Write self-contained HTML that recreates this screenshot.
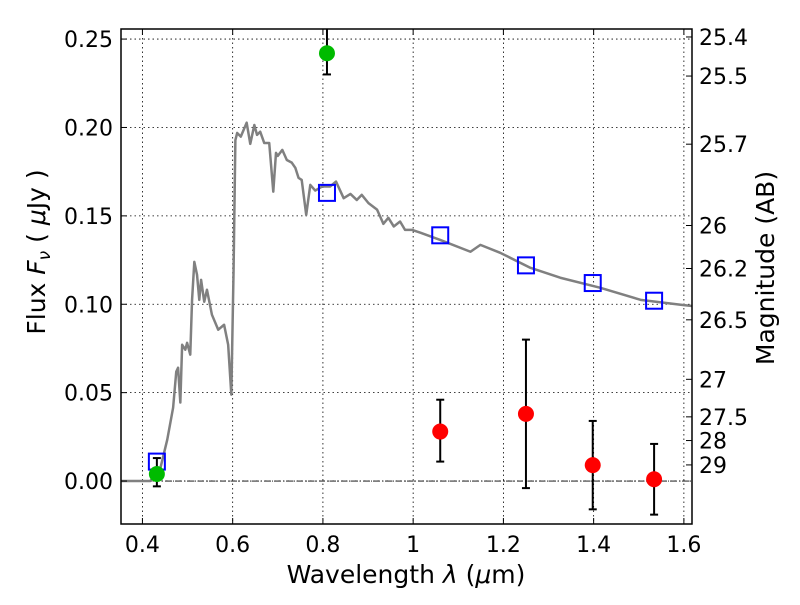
<!DOCTYPE html>
<html><head><meta charset="utf-8"><style>
body{margin:0;background:#fff}
svg text{font-family:"DejaVu Sans","Liberation Sans",sans-serif;fill:#000}
</style></head><body>
<svg id="chart" width="800" height="600" xmlns="http://www.w3.org/2000/svg">
<defs><clipPath id="plotclip"><rect x="121" y="29" width="571" height="495"/></clipPath></defs>
<rect width="800" height="600" fill="#fff"/>
<g id="grid"></g>
<g id="marks" clip-path="url(#plotclip)"></g>
<rect x="121" y="29" width="571" height="495" fill="none" stroke="#000" stroke-width="1.5"/>
<g id="axes"></g>
<text x="406" y="583" font-size="25" text-anchor="middle">Wavelength  <tspan font-style="italic">λ</tspan> (<tspan font-style="italic">μ</tspan>m)</text>
<text transform="translate(45,252) rotate(-90)" font-size="25" text-anchor="middle">Flux  <tspan font-style="italic">F<tspan font-size="17" dy="5">ν</tspan></tspan><tspan dy="-5">  ( </tspan><tspan font-style="italic">μ</tspan>Jy )</text>
<text transform="translate(774,268) rotate(-90)" font-size="25" text-anchor="middle">Magnitude (AB)</text>
</svg>
<script>
const xTicks=[0.4,0.6,0.8,1.0,1.2,1.4,1.6];
const xTickLabels=["0.4","0.6","0.8","1","1.2","1.4","1.6"];
const yTicks=[0,0.05,0.10,0.15,0.20,0.25];
const yTickLabels=["0.00","0.05","0.10","0.15","0.20","0.25"];
const magTicks=[25.4,25.5,25.7,26,26.2,26.5,27,27.5,28,29];
const magLabels=["25.4","25.5","25.7","26","26.2","26.5","27","27.5","28","29"];
const specW=[0.353,0.417,0.439,0.455,0.468,0.475,0.479,0.484,0.488,0.495,0.499,0.506,0.510,0.515,0.521,0.526,0.530,0.537,0.543,0.554,0.568,0.581,0.590,0.597,0.602,0.606,0.610,0.618,0.631,0.639,0.648,0.654,0.661,0.670,0.681,0.690,0.696,0.700,0.710,0.720,0.731,0.739,0.746,0.753,0.763,0.772,0.783,0.798,0.816,0.829,0.846,0.861,0.875,0.886,0.901,0.920,0.934,0.945,0.957,0.971,0.982,0.997,1.016,1.060,1.127,1.149,1.193,1.260,1.326,1.415,1.504,1.593,1.619];
const specF=[0,0,0.0065,0.0234,0.0415,0.0619,0.0641,0.0444,0.0771,0.0743,0.0782,0.0715,0.1025,0.1240,0.1167,0.1025,0.1138,0.1014,0.1082,0.0941,0.0856,0.0884,0.0771,0.0489,0.1195,0.1929,0.1969,0.1948,0.2027,0.1907,0.2014,0.1958,0.1976,0.1912,0.1912,0.1637,0.1856,0.1839,0.1873,0.1816,0.1801,0.1771,0.1715,0.1703,0.1506,0.1675,0.1643,0.1666,0.1666,0.1694,0.1600,0.1624,0.1590,0.1619,0.1572,0.1535,0.1455,0.1489,0.1440,0.1468,0.1421,0.1421,0.1405,0.1364,0.1297,0.1336,0.1291,0.1206,0.1150,0.1093,0.1025,0.0997,0.0990];
const modelW=[0.432,0.809,1.060,1.250,1.398,1.534];
const modelF=[0.011,0.163,0.139,0.122,0.112,0.102];
const greenW=[0.432,0.809];
const greenF=[0.004,0.242];
const greenLo=[-0.003,0.230];
const greenHi=[0.013,0.262];
const redW=[1.060,1.250,1.398,1.534];
const redF=[0.028,0.038,0.009,0.001];
const redLo=[0.011,-0.004,-0.016,-0.019];
const redHi=[0.046,0.080,0.034,0.021];
const X0=121,X1=692,Y0=29,Y1=524,XMIN=0.3525,XMAX=1.618,YMIN=-0.0243,YMAX=0.2557;
const xs=w=>X0+(w-XMIN)/(XMAX-XMIN)*(X1-X0);
const ys=f=>Y1-(f-YMIN)/(YMAX-YMIN)*(Y1-Y0);
const NS="http://www.w3.org/2000/svg";
function mk(tag,attrs,parent){const e=document.createElementNS(NS,tag);for(const k in attrs)e.setAttribute(k,attrs[k]);parent.appendChild(e);return e;}
const grid=document.getElementById('grid'),marks=document.getElementById('marks'),axes=document.getElementById('axes');
xTicks.forEach((t,i)=>{const x=xs(t);
 const g=mk('line',{x1:x,x2:x,y1:Y0,y2:Y1,stroke:'#000','stroke-width':0.8,'stroke-dasharray':'1.5,3'},grid);
 
 
 mk('line',{x1:x,x2:x,y1:Y1,y2:Y1-6,stroke:'#000'},axes);
 mk('line',{x1:x,x2:x,y1:Y0,y2:Y0+6,stroke:'#000'},axes);
 const tx=mk('text',{x:x,y:Y1+28,'font-size':22,'text-anchor':'middle'},axes);tx.textContent=xTickLabels[i];
 
 });
yTicks.forEach((t,i)=>{const y=ys(t);
 const g=mk('line',{x1:X0,x2:X1,y1:y,y2:y,stroke:'#000','stroke-width':0.8,'stroke-dasharray':'1.5,3'},grid);
 
 
 mk('line',{x1:X0,x2:X0+6,y1:y,y2:y,stroke:'#000'},axes);
 const tx=mk('text',{x:X0-8,y:y+8,'font-size':22,'text-anchor':'end'},axes);tx.textContent=yTickLabels[i];
 
 });
magTicks.forEach((m,i)=>{const y=ys(Math.pow(10,(23.9-m)/2.5));
 mk('line',{x1:X1,x2:X1-6,y1:y,y2:y,stroke:'#000'},axes);
 const tx=mk('text',{x:X1+7,y:y+8,'font-size':22},axes);tx.textContent=magLabels[i];
 
 });
const zl=mk('line',{x1:X0,x2:X1,y1:ys(0),y2:ys(0),stroke:'#000','stroke-width':0.8,'stroke-dasharray':'6,2,1,2'},grid);


const sp=mk('polyline',{points:specW.map((w,i)=>xs(w)+','+ys(specF[i])).join(' '),fill:'none',stroke:'#808080','stroke-width':2.5,'stroke-linejoin':'round'},marks);


function err(w,lo,hi){const x=xs(w);
 mk('line',{x1:x,x2:x,y1:ys(lo),y2:ys(hi),stroke:'#000','stroke-width':2},marks);
 mk('line',{x1:x-4,x2:x+4,y1:ys(lo),y2:ys(lo),stroke:'#000','stroke-width':2},marks);
 mk('line',{x1:x-4,x2:x+4,y1:ys(hi),y2:ys(hi),stroke:'#000','stroke-width':2},marks);}
modelW.forEach((w,i)=>{const r=mk('rect',{x:xs(w)-8,y:ys(modelF[i])-8,width:16,height:16,fill:'none',stroke:'#0000ff','stroke-width':2},marks);
 
 });
greenW.forEach((w,i)=>{err(w,greenLo[i],greenHi[i]);
 const c=mk('circle',{cx:xs(w),cy:ys(greenF[i]),r:8,fill:'#00bb00'},marks);
 
 });
redW.forEach((w,i)=>{err(w,redLo[i],redHi[i]);
 const c=mk('circle',{cx:xs(w),cy:ys(redF[i]),r:8,fill:'#ff0000'},marks);
 
 });
</script>
</body></html>
